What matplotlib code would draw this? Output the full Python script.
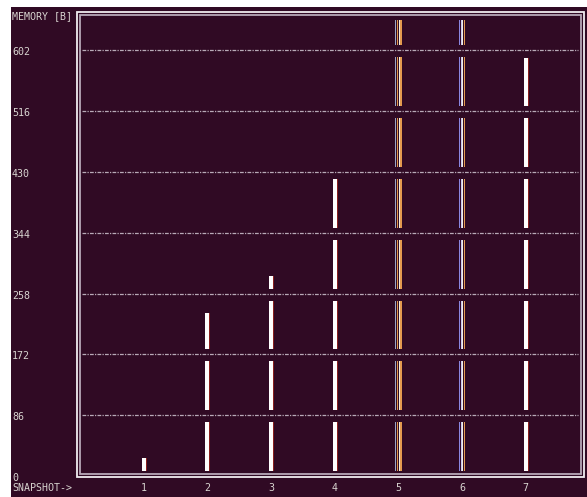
import matplotlib.pyplot as plt
import matplotlib.transforms as mtransforms
from matplotlib.patches import Rectangle

# massif-style terminal graph: heap usage per snapshot
snapshots = [1, 2, 3, 4, 5, 6, 7]
mem_bytes = [25, 230, 283, 420, 645, 645, 591]
ytick_vals = [0, 86, 172, 258, 344, 430, 516, 602]
grid_vals = ytick_vals[1:]
# snapshots 5 and 6 are detailed snapshots drawn as coloured stripes
stripe_colors = {
    5: ['#9aa6c4', '#e39a4f', '#f2efe0', '#e39a4f'],
    6: ['#8a86e0', '#c8c6f0', '#f2efe0', '#e39a4f'],
}

BG = '#300a24'
FG = '#d8d4d0'
FONT = dict(family='DejaVu Sans Mono', fontsize=7.2, color=FG)

W, H = 587, 497
fig = plt.figure(figsize=(W / 100, H / 100), dpi=100, facecolor='white')


def px_box(x0, y0, x1, y1):
    return [x0 / W, 1 - y1 / H, (x1 - x0) / W, (y1 - y0) / H]


# terminal background (screenshot has a small white margin top/left)
fig.patches.append(Rectangle((11 / W, 0), 1 - 11 / W, 1 - 7 / H,
                             transform=fig.transFigure, facecolor=BG,
                             edgecolor='none', zorder=-2))
# double frame
for box, col in [((77, 12, 584, 477), '#f0ecf0'), ((80, 15, 581, 474), '#b8a8b8')]:
    x0, y0, x1, y1 = box
    b = px_box(x0, y0, x1, y1)
    fig.patches.append(Rectangle((b[0], b[1]), b[2], b[3], transform=fig.transFigure,
                                 facecolor='none', edgecolor=col, lw=1.3, zorder=-1))

ax = fig.add_axes(px_box(80, 15, 581, 474))
ax.set_zorder(5)
ax.set_facecolor('none')
ax.set_xlim(0, 7.87)
ax.set_ylim(2.8, 651.8)
ax.axis('off')

# dotted gridlines
ax.hlines(grid_vals, 0.03, 7.83, colors='#b8aab8', lw=0.9,
          linestyles=(0, (3, 1, 1, 1)), zorder=2)

px = 1 / 63.67  # one pixel in x data units
pad_lo, pad_hi = 7, 10
edges = [0] + grid_vals + [700]
for x, v in zip(snapshots, mem_bytes):
    for lo, hi in zip(edges[:-1], edges[1:]):
        bottom = lo + pad_lo
        top = min(hi - pad_hi, v)
        if top <= bottom:
            continue
        if x in stripe_colors:
            cols = stripe_colors[x]
            offs = [-3, -1, 1, 3]
            for c, o in zip(cols, offs):
                ax.bar(x + o * px * 0.9, top - bottom, bottom=bottom,
                       width=1.1 * px, color=c, lw=0, zorder=3)
        else:
            ax.bar(x + 2.3 * px, top - bottom, bottom=bottom, width=1.2 * px,
                   color='#8a2020', lw=0, zorder=3)
            ax.bar(x, top - bottom, bottom=bottom, width=4 * px,
                   color='white', lw=0, zorder=4)

# axis texts
fig.text(12 / W, 1 - 16 / H, 'MEMORY [B]', ha='left', va='center', **FONT)
fig.text(12 / W, 1 - 488 / H, 'SNAPSHOT->', ha='left', va='center', **FONT)

ytrans = mtransforms.blended_transform_factory(fig.transFigure, ax.transData)
ytrans = mtransforms.offset_copy(ytrans, fig=fig, y=-2, units='dots')
for v in ytick_vals:
    ax.text(12 / W, v, str(v), transform=ytrans, ha='left', va='center',
            clip_on=False, **FONT)

xtrans = mtransforms.blended_transform_factory(ax.transData, fig.transFigure)
for x in snapshots:
    ax.text(x, 1 - 488 / H, str(x), transform=xtrans, ha='center', va='center',
            clip_on=False, **FONT)

fig.savefig('out.png', dpi=100, facecolor=fig.get_facecolor())
